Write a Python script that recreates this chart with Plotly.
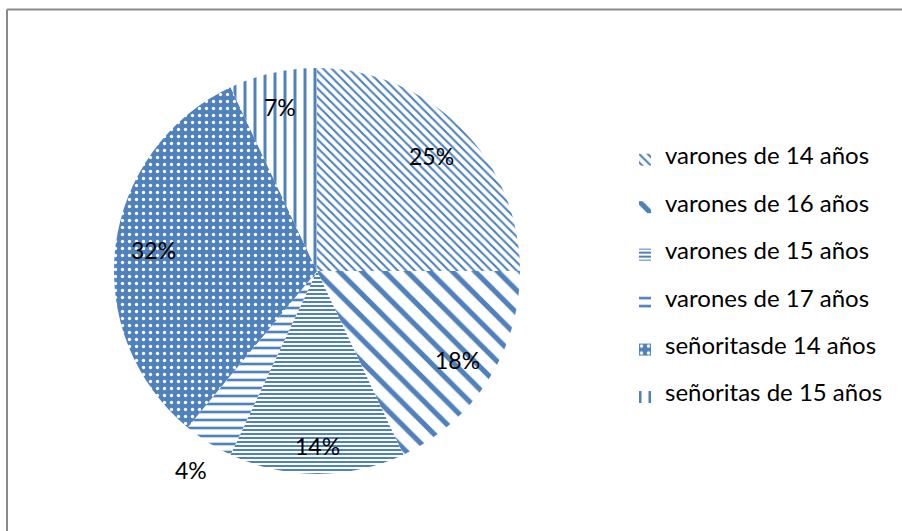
import math
import plotly.graph_objects as go

categories = ["varones de 14 años", "varones de 16 años", "varones de 15 años",
              "varones de 17 años", "señoritas de 14 años", "señoritas de 15 años"]
legend_names = ["varones de 14 años", "varones de 16 años", "varones de 15 años",
                "varones de 17 años", "señoritasde 14 años", "señoritas de 15 años"]
values = [25, 18, 14, 4, 32, 7]
pct_labels = ["25%", "18%", "14%", "4%", "32%", "7%"]

BLUE = "#4F81BD"
W, H = 902, 531

# pattern styles per slice
shapes_pat = ["\\", "\\", "-", "-", ".", "|"]
sizes_pat = [6, 16, 4, 8, 7, 10]
solid_pat = [0.36, 0.32, 0.5, 0.33, 0.18, 0.3]
bg_pat = ["white", "white", "white", "white", BLUE, "white"]
fg_pat = [BLUE, BLUE, BLUE, BLUE, "white", BLUE]
# label distance from centre, as a fraction of the radius (inside ~0.82, outside ~1.16)
label_r = [0.80, 0.82, 0.86, 1.16, 0.81, 0.83]

# legend labels padded with blank lines to reproduce the wide row spacing
legend_labels = ["\u00a0<br><span style='font-size:24px'>%s</span><br>\u00a0" % n for n in legend_names]

cx, cy, R = 317, 271, 203
dom_x = [(cx - R) / W, (cx + R) / W]
dom_y = [(H - cy - R) / H, (H - cy + R) / H]

fig = go.Figure(go.Pie(
    labels=legend_labels,
    values=values,
    sort=False,
    direction="clockwise",
    rotation=0,
    textinfo="none",
    marker=dict(
        colors=[BLUE] * len(values),
        line=dict(width=0),
        pattern=dict(shape=shapes_pat, size=sizes_pat, solidity=solid_pat,
                     bgcolor=bg_pat, fgcolor=fg_pat, fillmode="replace"),
    ),
    domain=dict(x=dom_x, y=dom_y),
    hoverinfo="skip",
))

# percentage labels placed at the middle angle of each slice
total = sum(values)
annotations = []
cum = 0
for v, lab, rf in zip(values, pct_labels, label_r):
    mid = (cum + v / 2) / total * 2 * math.pi
    cum += v
    px = cx + rf * R * math.sin(mid)
    py = cy - rf * R * math.cos(mid)
    annotations.append(dict(
        x=px / W, y=1 - py / H, xref="paper", yref="paper", text=lab,
        showarrow=False, xanchor="center", yanchor="middle",
        font=dict(family="Lato", size=23, color="black"),
    ))

fig.update_layout(
    width=W, height=H,
    margin=dict(l=0, r=0, t=0, b=0),
    paper_bgcolor="white",
    plot_bgcolor="white",
    font=dict(family="Lato", color="black"),
    showlegend=True,
    legend=dict(x=625 / W, xanchor="left", y=(H - 131) / H, yanchor="top",
                font=dict(family="Lato", size=11.4, color="black"),
                itemwidth=30, bgcolor="rgba(0,0,0,0)", tracegroupgap=0),
    annotations=annotations,
    shapes=[
        dict(type="line", xref="paper", yref="paper", x0=7 / W, x1=1, y0=1 - 9.5 / H, y1=1 - 9.5 / H,
             line=dict(color="#8a8a8a", width=2)),
        dict(type="line", xref="paper", yref="paper", x0=7 / W, x1=7 / W, y0=0, y1=1 - 9.5 / H,
             line=dict(color="#8a8a8a", width=2)),
    ],
)

fig.write_html("out.html", config={"displayModeBar": False},
               post_script="document.body.style.margin='0';document.body.style.overflow='hidden';")
